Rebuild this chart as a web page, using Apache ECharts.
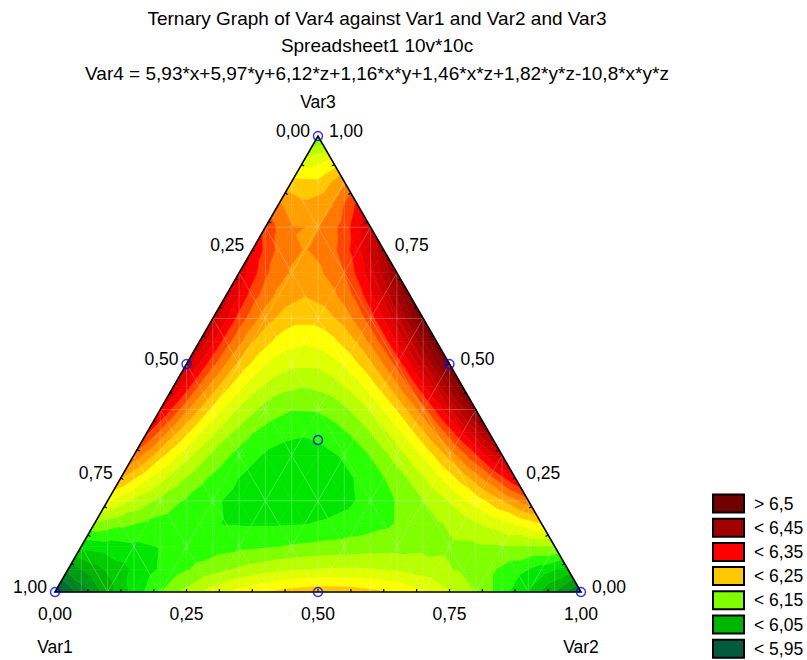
<!DOCTYPE html>
<html><head><meta charset="utf-8">
<script src="https://cdn.jsdelivr.net/npm/echarts@6/dist/echarts.min.js"></script>
<style>html,body{margin:0;padding:0;background:#fff}#c{width:807px;height:660px}</style>
</head><body><div id="c"></div>
<script>
// Var4 read on a 0.05 ternary grid.
// Row k: Var3 = k/20 ; entry j: Var2 = j/20 ; Var1 = 1 - Var2 - Var3
const var4Rows = [
 [5.930,5.987,6.038,6.084,6.124,6.157,6.186,6.208,6.224,6.235,6.240,6.239,6.232,6.220,6.202,6.177,6.148,6.112,6.070,6.023,5.970],
 [6.009,6.040,6.067,6.092,6.113,6.132,6.147,6.159,6.168,6.174,6.177,6.177,6.174,6.167,6.158,6.145,6.130,6.111,6.089,6.064],
 [6.080,6.088,6.094,6.101,6.107,6.112,6.118,6.122,6.127,6.131,6.134,6.138,6.140,6.143,6.145,6.146,6.148,6.148,6.149],
 [6.145,6.131,6.120,6.110,6.104,6.099,6.097,6.097,6.099,6.104,6.111,6.120,6.132,6.146,6.162,6.181,6.201,6.225],
 [6.202,6.170,6.143,6.121,6.104,6.092,6.085,6.083,6.086,6.094,6.108,6.126,6.149,6.177,6.210,6.248,6.291],
 [6.251,6.204,6.164,6.132,6.108,6.091,6.082,6.081,6.088,6.102,6.124,6.153,6.191,6.236,6.288,6.349],
 [6.294,6.233,6.184,6.144,6.115,6.097,6.088,6.091,6.103,6.126,6.160,6.203,6.258,6.322,6.397],
 [6.329,6.258,6.201,6.157,6.126,6.108,6.103,6.112,6.133,6.168,6.215,6.276,6.350,6.437],
 [6.356,6.279,6.217,6.171,6.140,6.126,6.127,6.144,6.177,6.226,6.290,6.371,6.467],
 [6.377,6.294,6.231,6.185,6.158,6.150,6.160,6.189,6.236,6.301,6.385,6.488],
 [6.390,6.306,6.242,6.200,6.180,6.180,6.202,6.244,6.308,6.394,6.500],
 [6.396,6.312,6.252,6.216,6.204,6.216,6.252,6.312,6.395,6.503],
 [6.394,6.314,6.260,6.233,6.233,6.259,6.312,6.391,6.497],
 [6.386,6.311,6.267,6.251,6.265,6.308,6.380,6.482],
 [6.370,6.304,6.271,6.269,6.300,6.363,6.457],
 [6.346,6.292,6.273,6.289,6.339,6.424],
 [6.316,6.276,6.274,6.309,6.381],
 [6.278,6.255,6.272,6.330],
 [6.232,6.229,6.269],
 [6.180,6.199],
 [6.120]
];
// observed data points (blue circles)
const pointVar1 = [0, 1, 0, 0.5, 0,   0.5, 0.3333];
const pointVar2 = [0, 0, 1, 0,   0.5, 0.5, 0.3333];
const pointVar3 = [1, 0, 0, 0.5, 0.5, 0,   0.3333];
// contour levels
const contourLevels = [5.95,5.975,6.0,6.025,6.05,6.075,6.1,6.125,6.15,6.175,6.2,6.225,6.25,6.275,6.3,6.325,6.35,6.375,6.4,6.425,6.45,6.475,6.5];
// axis ticks
const tickValues = [0, 0.25, 0.5, 0.75, 1];
const tickLabels = ['0,00', '0,25', '0,50', '0,75', '1,00'];
const axisNames = ['Var1', 'Var2', 'Var3'];
// legend
const legendLabels = ['> 6,5', '< 6,45', '< 6,35', '< 6,25', '< 6,15', '< 6,05', '< 5,95'];
const titleLines = [
  'Ternary Graph of Var4 against Var1 and Var2 and Var3',
  'Spreadsheet1 10v*10c',
  'Var4 = 5,93*x+5,97*y+6,12*z+1,16*x*y+1,46*x*z+1,82*y*z-10,8*x*y*z'
];

// ---- styles ----
const bandColors = [
  '#005c3c','#006e30','#008424','#009c14','#00b400','#00cc00','#00e600','#28ff00',
  '#80ff00','#b8ff00','#e0ff00','#ffff00','#ffc800','#ffa000','#ff7800','#ff4400',
  '#ff0000','#e40000','#cc0000','#b80000','#a00000','#900000','#800000','#700000'
];
const legendColors = ['#700000','#a00000','#ff0000','#ffc800','#80ff00','#00b400','#005c3c'];
const FONT = "'Liberation Sans', Arial, sans-serif";

const S3 = Math.sqrt(3) / 2;
function toXY(v2, v3) { return [v2 + v3 / 2, v3 * S3]; }

// ---- build band polygons (marching triangles) ----
const N = var4Rows.length - 1;
function node(k, j) { const p = toXY(j / N, k / N); return { x: p[0], y: p[1], v: var4Rows[k][j] }; }
function clip(poly, t, keepAbove) {
  const out = [];
  for (let a = 0; a < poly.length; a++) {
    const P = poly[a], Q = poly[(a + 1) % poly.length];
    const pin = keepAbove ? P.v >= t : P.v <= t;
    const qin = keepAbove ? Q.v >= t : Q.v <= t;
    if (pin) out.push(P);
    if (pin !== qin) {
      const r = (t - P.v) / (Q.v - P.v);
      out.push({ x: P.x + r * (Q.x - P.x), y: P.y + r * (Q.y - P.y), v: t });
    }
  }
  return out;
}
function bandOf(v) { let b = 0; while (b < contourLevels.length && v >= contourLevels[b]) b++; return b; }
const polys = [];
function addTri(A, B, C) {
  const bs = [bandOf(A.v), bandOf(B.v), bandOf(C.v)];
  const b0 = Math.min.apply(null, bs), b1 = Math.max.apply(null, bs);
  for (let b = b0; b <= b1; b++) {
    let p = [A, B, C];
    if (b > 0) p = clip(p, contourLevels[b - 1], true);
    if (p.length >= 3 && b < contourLevels.length) p = clip(p, contourLevels[b], false);
    if (p.length >= 3) polys.push({ band: b, pts: p.map(q => [q.x, q.y]) });
  }
}
for (let k = 0; k < N; k++) {
  for (let j = 0; j + k < N; j++) {
    addTri(node(k, j), node(k, j + 1), node(k + 1, j));
    if (j + k < N - 1) addTri(node(k, j + 1), node(k + 1, j + 1), node(k + 1, j));
  }
}
const polyData = polys.map((p, i) => [p.pts[0][0], p.pts[0][1], i]);

// mesh lines (faint)
const meshLines = [];
for (let m = 1; m < 20; m++) {
  const cx = m / 20; const h = Math.min(cx, 1 - cx) * 2 * S3;
  meshLines.push([[cx, 0], [cx, h]]);
}
[0.2, 0.4, 0.6, 0.8].forEach(z => meshLines.push([toXY(0, z), toXY(1 - z, z)]));
for (let m = 1; m < 10; m++) {
  const t = m / 10;
  meshLines.push([toXY(t, 0), toXY(t, 1 - t)]);      // Var2 const
  meshLines.push([toXY(1 - t, 0), toXY(0, 1 - t)]);  // Var1 const
}

const chart = echarts.init(document.getElementById('c'), null, { renderer: 'svg' });

function renderContour(params, api) {
  const p = polys[api.value(2)];
  const col = bandColors[p.band];
  return { type: 'polygon', shape: { points: p.pts.map(q => api.coord(q)) },
           style: { fill: col, stroke: col, lineWidth: 0.6 } };
}
function renderMesh(params, api) {
  const children = meshLines.map(l => {
    const a = api.coord(l[0]), b = api.coord(l[1]);
    return { type: 'line', shape: { x1: a[0], y1: a[1], x2: b[0], y2: b[1] },
             style: { stroke: 'rgba(255,255,255,0.22)', lineWidth: 1 } };
  });
  return { type: 'group', children };
}
function txt(s, x, y, align) {
  return { type: 'text', style: { text: s, x: x, y: y, align: align, verticalAlign: 'middle',
           fill: '#000', fontSize: 17.5, fontFamily: FONT } };
}
function renderFrame(params, api) {
  const P = (v2, v3) => api.coord(toXY(v2, v3));
  const L = P(0, 0), R = P(1, 0), T = P(0, 1);
  const ch = [];
  ch.push({ type: 'polygon', shape: { points: [L, R, T] }, style: { fill: 'none', stroke: '#000', lineWidth: 1.6 } });
  // minor ticks every 1/16
  for (let m = 1; m < 16; m++) {
    const t = m / 16;
    const b = P(t, 0); ch.push({ type: 'line', shape: { x1: b[0], y1: b[1], x2: b[0], y2: b[1] - 3 }, style: { stroke: '#000', lineWidth: 1.2 } });
    const l = P(0, t); ch.push({ type: 'line', shape: { x1: l[0], y1: l[1], x2: l[0] + 2.6, y2: l[1] + 1.5 }, style: { stroke: '#000', lineWidth: 1.2 } });
    const r = P(1 - t, t); ch.push({ type: 'line', shape: { x1: r[0], y1: r[1], x2: r[0] - 2.6, y2: r[1] + 1.5 }, style: { stroke: '#000', lineWidth: 1.2 } });
  }
  tickValues.forEach((t, i) => {
    const a = P(0, 1 - t); ch.push(txt(tickLabels[i], a[0] - 8, a[1] - 5, 'right'));
    const b = P(t, 0); ch.push(txt(tickLabels[i], b[0], b[1] + 22, 'center'));
    const c = P(1 - t, t); ch.push(txt(tickLabels[i], c[0] + 11, c[1] - 5, 'left'));
  });
  ch.push(txt(axisNames[0], L[0], L[1] + 55, 'center'));
  ch.push(txt(axisNames[1], R[0], R[1] + 55, 'center'));
  ch.push(txt(axisNames[2], T[0], T[1] - 34, 'center'));
  return { type: 'group', children: ch };
}

const graphics = [];
titleLines.forEach((s, i) => {
  graphics.push({ type: 'text', x: 377, y: [18, 45, 73][i],
    style: { text: s, align: 'center', verticalAlign: 'middle', textAlign: 'center', textVerticalAlign: 'middle',
             fill: '#000', fontSize: 19, fontFamily: FONT } });
});
legendLabels.forEach((s, i) => {
  const cy = 503.5 + i * 24.2;
  graphics.push({ type: 'rect', shape: { x: 713, y: cy - 9, width: 31, height: 18 },
    style: { fill: legendColors[i], stroke: '#000', lineWidth: 2 } });
  graphics.push({ type: 'text', x: 754, y: cy,
    style: { text: s, align: 'left', verticalAlign: 'middle', textAlign: 'left', textVerticalAlign: 'middle',
             fill: '#000', fontSize: 17.5, fontFamily: FONT } });
});

chart.setOption({
  animation: false,
  backgroundColor: '#fff',
  grid: { left: 55, top: 136, width: 526, height: 456, containLabel: false },
  xAxis: { type: 'value', min: 0, max: 1, show: false },
  yAxis: { type: 'value', min: 0, max: S3, show: false },
  graphic: graphics,
  series: [
    { type: 'custom', z: 1, data: polyData, renderItem: renderContour, clip: false, progressive: 0, silent: true },
    { type: 'custom', z: 2, data: [[0.5, 0.3]], renderItem: renderMesh, clip: false, silent: true },
    { type: 'custom', z: 3, data: [[0.5, 0.3]], renderItem: renderFrame, clip: false, silent: true },
    { type: 'scatter', z: 4, clip: false, silent: true,
      data: pointVar1.map((v, i) => toXY(pointVar2[i], pointVar3[i])),
      symbol: 'circle', symbolSize: 9,
      itemStyle: { color: 'rgba(0,0,0,0)', borderColor: '#0000ff', borderWidth: 1.5 } }
  ]
});
</script>
</body></html>
